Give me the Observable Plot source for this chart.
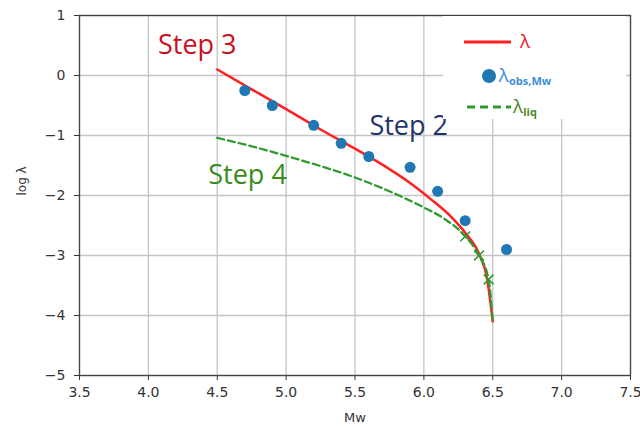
<!DOCTYPE html>
<html>
<head>
<meta charset="utf-8">
<script src="https://cdn.jsdelivr.net/npm/d3@7"></script>
<script src="https://cdn.jsdelivr.net/npm/@observablehq/plot@0.6"></script>
<style>
  html, body { margin: 0; padding: 0; background: #fff; }
  #chart { position: relative; width: 640px; height: 427px; }
</style>
</head>
<body>
<div id="chart"></div>
<script>
// Model curve λ
const mwModel  = [4.5, 4.75, 5.0, 5.25, 5.5, 5.75, 5.9, 6.05, 6.2, 6.3, 6.4, 6.46, 6.5];
const logModel = [0.1, -0.23, -0.56, -0.9, -1.22, -1.56, -1.79, -2.06, -2.36, -2.62, -2.97, -3.4, -4.1];
// Observations λobs,Mw
const mwObs  = [4.7, 4.9, 5.2, 5.4, 5.6, 5.9, 6.1, 6.3, 6.6];
const logObs = [-0.25, -0.5, -0.83, -1.13, -1.35, -1.53, -1.93, -2.42, -2.9];
// Liquefaction curve λliq
const mwLiq  = [4.5, 4.75, 5.0, 5.25, 5.5, 5.75, 6.0, 6.15, 6.3, 6.4, 6.47, 6.5];
const logLiq = [-1.04, -1.18, -1.34, -1.51, -1.7, -1.93, -2.2, -2.39, -2.68, -3.0, -3.4, -4.1];
// x markers on λliq
const mwMark  = [6.3, 6.4, 6.47];
const logMark = [-2.68, -3.0, -3.4];
// Annotations
const stepLabels = ["Step 3", "Step 2", "Step 4"];
const stepMw     = [4.355, 5.89, 4.72];
const stepLog    = [0.5, -0.85, -1.67];
const stepColors = ["#c8101e", "#1f3468", "#3c8a1c"];
// Ticks
const xTicks = [3.5, 4.0, 4.5, 5.0, 5.5, 6.0, 6.5, 7.0, 7.5];
const yTicks = [1, 0, -1, -2, -3, -4, -5];

const model = mwModel.map((x, i) => ({x, y: logModel[i]}));
const obs = mwObs.map((x, i) => ({x, y: logObs[i]}));
const liq = mwLiq.map((x, i) => ({x, y: logLiq[i]}));
const marks = mwMark.map((x, i) => ({x, y: logMark[i]}));
const steps = stepLabels.map((t, i) => ({t, x: stepMw[i], y: stepLog[i], c: stepColors[i]}));

const RED = "#ff1f1f", BLUE = "#1f77b4", GREEN = "#2f9a2f";

const plot = Plot.plot({
  width: 640,
  height: 427,
  marginLeft: 79,
  marginRight: 10,
  marginTop: 15,
  marginBottom: 52,
  style: {fontFamily: "DejaVu Sans", background: "#fff", overflow: "visible"},
  x: {domain: [3.5, 7.5]},
  y: {domain: [-5, 1]},
  marks: [
    Plot.ruleX(xTicks, {stroke: "#c4c4c4", strokeWidth: 1.3}),
    Plot.ruleY(yTicks, {stroke: "#c4c4c4", strokeWidth: 1.3}),
    Plot.axisX({ticks: xTicks, tickFormat: d3.format(".1f"), tickSize: 5, fontSize: 14, tickPadding: 7, label: null, stroke: "#333", fill: "#333"}),
    Plot.axisY({ticks: yTicks, tickFormat: d3.format("d"), tickSize: 5, fontSize: 14, tickPadding: 9, label: null, stroke: "#333", fill: "#333"}),
    Plot.line(model, {x: "x", y: "y", stroke: RED, strokeWidth: 2.5, curve: "monotone-x"}),
    Plot.dot(obs, {x: "x", y: "y", r: 5.5, fill: BLUE, stroke: "none"}),
    Plot.line(liq, {x: "x", y: "y", stroke: GREEN, strokeWidth: 2.3, strokeDasharray: "7,4", curve: "monotone-x"}),
    Plot.dot(marks, {x: "x", y: "y", symbol: "times", r: 4.5, stroke: GREEN, strokeWidth: 1.5}),
    Plot.text(steps, {x: "x", y: "y", text: "t", fill: "c", fontSize: 27, fontFamily: "Open Sans", textAnchor: "middle", lineAnchor: "middle"}),
    Plot.frame({stroke: "#444", strokeWidth: 1.3}),
    Plot.text(["Mw"], {frameAnchor: "bottom", dy: 46, fontSize: 13, fill: "#333"}),
    Plot.text(["log λ"], {frameAnchor: "left", dx: -57, rotate: -90, fontSize: 12, fill: "#333"})
  ]
});

document.getElementById("chart").appendChild(plot);

// Legend drawn into the svg (white box hiding grid)
const svg = d3.select(plot);
const lg = svg.append("g").attr("transform", "translate(443,16)");
lg.append("rect").attr("width", 183).attr("height", 103).attr("fill", "#fff");
lg.append("line").attr("x1", 21).attr("x2", 68).attr("y1", 26).attr("y2", 26)
  .attr("stroke", RED).attr("stroke-width", 3);
lg.append("circle").attr("cx", 46).attr("cy", 60).attr("r", 7).attr("fill", BLUE);
lg.append("line").attr("x1", 24).attr("x2", 68).attr("y1", 91).attr("y2", 91)
  .attr("stroke", GREEN).attr("stroke-width", 3).attr("stroke-dasharray", "8,5");
const legTexts = [
  {main: "λ", sub: "", y: 32, c: "#e81e1e"},
  {main: "λ", sub: "obs,Mw", y: 66, c: "#3d8ed8"},
  {main: "λ", sub: "liq", y: 97, c: "#4a8a2a"}
];
legTexts.forEach(d => {
  const t = lg.append("text").attr("x", 82).attr("y", d.y).attr("fill", d.c)
    .attr("font-family", "Open Sans").attr("font-size", 19);
  t.append("tspan").text(d.main);
  if (d.sub) t.append("tspan").attr("dy", 3).attr("font-size", 11)
    .attr("font-weight", "bold").text(d.sub);
});
</script>
</body>
</html>
